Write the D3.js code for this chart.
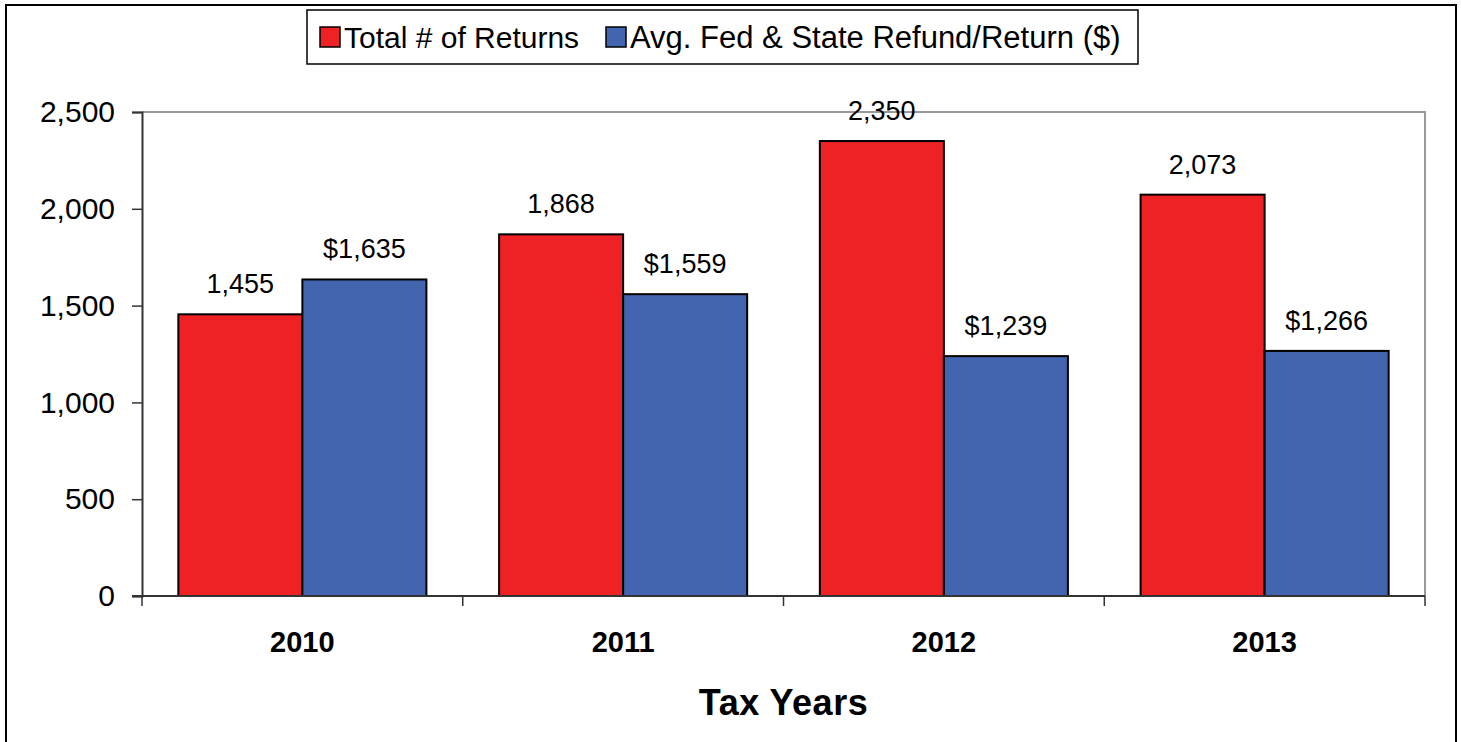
<!DOCTYPE html>
<meta charset="utf-8">
<style>
body { margin: 0; background: #fff; }
text { font-family: "Liberation Sans", Arial, sans-serif; }
.tick text { font-size: 30px; fill: #000; }
.label { font-size: 27px; fill: #000; }
</style>
<svg width="1461" height="742"></svg>
<script src="https://d3js.org/d3.v7.min.js"></script>
<script>

var years = ["2010", "2011", "2012", "2013"],
    returns = [1455, 1868, 2350, 2073],
    refunds = [1635, 1559, 1239, 1266],
    seriesNames = ["Total # of Returns", "Avg. Fed & State Refund/Return ($)"],
    colors = ["#ee2224", "#4364ae"],
    yTicks = [0, 500, 1000, 1500, 2000, 2500];

var svg = d3.select("svg"),
    margin = {top: 112, right: 36, bottom: 146, left: 142},
    width = 1461 - margin.left - margin.right,
    height = 742 - margin.top - margin.bottom;

// outer frame
svg.append("rect")
    .attr("x", 6).attr("y", 5)
    .attr("width", 1450).attr("height", 745)
    .attr("fill", "#fff")
    .attr("stroke", "#000")
    .attr("stroke-width", 2);

var g = svg.append("g")
    .attr("transform", "translate(" + margin.left + "," + margin.top + ")");

var x = d3.scaleBand()
    .domain(years)
    .range([0, width]);

var x1 = d3.scaleBand()
    .domain([0, 1])
    .range([0, x.bandwidth()])
    .paddingOuter(0.293)
    .paddingInner(0);

var y = d3.scaleLinear()
    .domain([0, 2500])
    .range([height, 0]);

// plot area border
g.append("path")
    .attr("d", "M0,0H" + width + "V" + height)
    .attr("fill", "none")
    .attr("stroke", "#999")
    .attr("stroke-width", 2);

var data = years.map(function(yr, i) {
  return [
    {year: yr, s: 0, v: returns[i], text: d3.format(",")(returns[i])},
    {year: yr, s: 1, v: refunds[i], text: "$" + d3.format(",")(refunds[i])}
  ];
});

var group = g.selectAll(".year")
  .data(data)
  .enter().append("g")
    .attr("class", "year")
    .attr("transform", function(d) { return "translate(" + x(d[0].year) + ",0)"; });

group.selectAll("rect")
  .data(function(d) { return d; })
  .enter().append("rect")
    .attr("x", function(d) { return x1(d.s); })
    .attr("y", function(d) { return y(d.v); })
    .attr("width", x1.bandwidth())
    .attr("height", function(d) { return height - y(d.v); })
    .attr("fill", function(d) { return colors[d.s]; })
    .attr("stroke", "#000")
    .attr("stroke-width", 2);

group.selectAll(".label")
  .data(function(d) { return d; })
  .enter().append("text")
    .attr("class", "label")
    .attr("x", function(d) { return x1(d.s) + x1.bandwidth() / 2; })
    .attr("y", function(d) { return y(d.v) - 21; })
    .attr("text-anchor", "middle")
    .text(function(d) { return d.text; });

// y axis
var yAxis = g.append("g")
    .call(d3.axisLeft(y).tickValues(yTicks).tickFormat(d3.format(",")).tickSize(10).tickPadding(17));
yAxis.select(".domain").attr("stroke", "#333").attr("stroke-width", 2);
yAxis.selectAll(".tick line").attr("stroke", "#333").attr("stroke-width", 1.5);

// x axis with ticks at category boundaries
var xAxis = g.append("g")
    .attr("transform", "translate(0," + height + ")");
xAxis.append("line")
    .attr("x1", -10).attr("x2", width)
    .attr("stroke", "#333").attr("stroke-width", 2);
xAxis.selectAll(".sep")
  .data(years.concat(["end"]))
  .enter().append("line")
    .attr("x1", function(d, i) { return i * x.step(); })
    .attr("x2", function(d, i) { return i * x.step(); })
    .attr("y1", 0).attr("y2", 10)
    .attr("stroke", "#333").attr("stroke-width", 1.5);
xAxis.selectAll(".cat")
  .data(years)
  .enter().append("text")
    .attr("x", function(d) { return x(d) + x.bandwidth() / 2; })
    .attr("y", 56)
    .attr("text-anchor", "middle")
    .attr("font-size", 29)
    .attr("font-weight", "bold")
    .text(function(d) { return d; });

svg.append("text")
    .attr("x", margin.left + width / 2)
    .attr("y", 715)
    .attr("text-anchor", "middle")
    .attr("font-size", 36)
    .attr("font-weight", "bold")
    .attr("letter-spacing", 0.5)
    .text("Tax Years");

// legend
var legend = svg.append("g");
legend.append("rect")
    .attr("x", 307).attr("y", 10)
    .attr("width", 831).attr("height", 54)
    .attr("fill", "#fff")
    .attr("stroke", "#000")
    .attr("stroke-width", 1.5);

var legendX = [320, 606];
var item = legend.selectAll(".item")
  .data(seriesNames)
  .enter().append("g")
    .attr("transform", function(d, i) { return "translate(" + legendX[i] + ",27)"; });
item.append("rect")
    .attr("width", 20).attr("height", 20)
    .attr("fill", function(d, i) { return colors[i]; })
    .attr("stroke", "#000")
    .attr("stroke-width", 1.5);
item.append("text")
    .attr("x", 24).attr("y", 21)
    .attr("font-size", function(d, i) { return i ? 31 : 30; })
    .text(function(d) { return d; });

</script>
